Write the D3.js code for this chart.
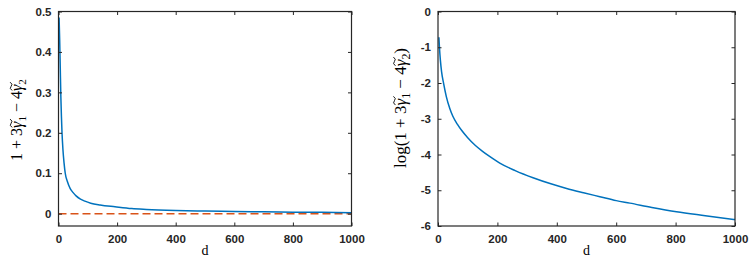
<!DOCTYPE html>
<html><head><meta charset="utf-8">
<script src="https://cdn.jsdelivr.net/npm/d3@7"></script>
<style>
body{margin:0;background:#fff;}
svg{display:block;}
</style></head>
<body><svg id="c" width="753" height="262"></svg>
<script>
// Left panel: 1 + 3γ̃1 − 4γ̃2 versus d
const leftD = [2, 4, 6, 8, 10, 12, 15, 19, 23, 30, 40, 50, 60, 75, 90, 110, 142, 193, 250, 300, 400, 500, 600, 700, 800, 900, 1000];
const leftV = [0.485, 0.43, 0.36, 0.29, 0.24, 0.20, 0.16, 0.125, 0.10, 0.08, 0.062, 0.052, 0.044, 0.036, 0.031, 0.026, 0.0215, 0.017, 0.0125, 0.0105, 0.008, 0.0065, 0.0055, 0.0045, 0.0038, 0.0032, 0.0025];
const zeroLineD = [0, 1000];
const zeroLineV = [0, 0];
// Right panel: log(1 + 3γ̃1 − 4γ̃2) versus d
const rightD = [3, 5, 8, 12, 19, 28, 40, 50, 65, 80, 100, 125, 150, 175, 208, 260, 320, 380, 433, 490, 545, 600, 646, 720, 803, 900, 1000];
const rightV = [-0.72, -1.02, -1.36, -1.68, -2.02, -2.38, -2.72, -2.93, -3.15, -3.33, -3.53, -3.74, -3.91, -4.06, -4.24, -4.45, -4.65, -4.82, -4.95, -5.07, -5.18, -5.29, -5.36, -5.48, -5.60, -5.71, -5.82];
const xTicks = [0, 200, 400, 600, 800, 1000];
const leftYTicks = [0, 0.1, 0.2, 0.3, 0.4, 0.5];
const leftYLabels = ["0", "0.1", "0.2", "0.3", "0.4", "0.5"];
const rightYTicks = [-6, -5, -4, -3, -2, -1, 0];
const rightYLabels = ["-6", "-5", "-4", "-3", "-2", "-1", "0"];

const svg = d3.select("#c");
const AX = "#262626";
const SERIF = "'Liberation Serif','Times New Roman',serif";

function panel(o){
  const x = d3.scaleLinear().domain([0,1000]).range([o.x0,o.x1]);
  const y = d3.scaleLinear().domain(o.ydom).range([o.y1,o.y0]);
  const g = svg.append("g");
  const tl = 3.5;
  o.series.forEach(s=>{
    const pts = s.d.map((d,i)=>[d,s.v[i]]);
    g.append("path").datum(pts)
      .attr("fill","none").attr("stroke",s.color).attr("stroke-width",s.w)
      .attr("stroke-dasharray",s.dash||null)
      .attr("d",d3.line().x(p=>x(p[0])).y(p=>y(p[1])).curve(s.dash?d3.curveLinear:d3.curveMonotoneX));
  });
  const bottom = g.append("g").attr("transform",`translate(0,${o.y1})`)
    .call(d3.axisBottom(x).tickValues(xTicks).tickFormat(d=>String(d)).tickSizeInner(-tl).tickSizeOuter(0).tickPadding(9));
  const top = g.append("g").attr("transform",`translate(0,${o.y0})`)
    .call(d3.axisTop(x).tickValues(xTicks).tickFormat("").tickSizeInner(-tl).tickSizeOuter(0));
  const left = g.append("g").attr("transform",`translate(${o.x0},0)`)
    .call(d3.axisLeft(y).tickValues(o.yt).tickFormat((d,i)=>o.yl[i]).tickSizeInner(-tl).tickSizeOuter(0).tickPadding(7));
  const right = g.append("g").attr("transform",`translate(${o.x1},0)`)
    .call(d3.axisRight(y).tickValues(o.yt).tickFormat("").tickSizeInner(-tl).tickSizeOuter(0));
  [bottom,top,left,right].forEach(a=>{
    a.select(".domain").remove();
    a.selectAll("line").attr("stroke",AX).attr("stroke-width",1);
    a.selectAll("text").attr("font-family","'Liberation Sans',Arial,sans-serif")
      .attr("font-weight","bold").attr("font-size",11.5).attr("fill",AX);
  });
  bottom.selectAll("text").attr("dy","0.71em");
  g.append("rect").attr("x",o.x0).attr("y",o.y0).attr("width",o.x1-o.x0).attr("height",o.y1-o.y0)
    .attr("fill","none").attr("stroke",AX).attr("stroke-width",1.2);
  g.append("text").attr("x",(o.x0+o.x1)/2).attr("y",o.y1+29)
    .attr("text-anchor","middle").attr("font-family",SERIF)
    .attr("font-size",14).attr("fill","#000").text("d");
  const lg = g.append("g").attr("transform",`translate(${o.ylx},${o.yly}) rotate(-90)`);
  const t = lg.append("text").attr("text-anchor","middle").attr("font-family",SERIF)
    .attr("font-size",o.yfs).attr("fill","#000");
  let idx = 0; const gammaIdx = [];
  o.ylab.forEach(p=>{
    const s = t.append("tspan").text(p.t);
    if(p.it){ s.attr("font-style","italic"); }
    if(p.t==="γ") gammaIdx.push(idx);
    if(p.sub) s.attr("font-size",o.yfs*0.7).attr("dy",o.yfs*0.25);
    if(p.up) s.attr("dy",-o.yfs*0.25);
    idx += p.t.length;
  });
  const node = t.node();
  gammaIdx.forEach(i=>{
    const ext = node.getExtentOfChar(i);
    const base = node.getStartPositionOfChar(i).y;
    const a = ext.x + 0.5, w = ext.width + 2, b = base - o.yfs*0.68;
    lg.append("path")
      .attr("d",`M${a},${b+1} Q${a+w*0.25},${b-2.2} ${a+w*0.5},${b} Q${a+w*0.75},${b+2.2} ${a+w},${b-1}`)
      .attr("fill","none").attr("stroke","#000").attr("stroke-width",0.9);
  });
}
const lab = [
  {t:"1 + 3"},{t:"γ",it:1},{t:"1",sub:1},{t:" − 4",up:1},{t:"γ",it:1},{t:"2",sub:1}
];
panel({x0:58.5,x1:351.5,y0:11.5,y1:226,ydom:[-0.0305,0.5],yt:leftYTicks,yl:leftYLabels,
  series:[{d:zeroLineD,v:zeroLineV,color:"#D95319",w:1.5,dash:"8,4"},{d:leftD,v:leftV,color:"#0072BD",w:1.5}],
  ylx:22,yly:120,yfs:16,ylab:lab});
panel({x0:438,x1:735,y0:11.5,y1:226,ydom:[-6,0],yt:rightYTicks,yl:rightYLabels,
  series:[{d:rightD,v:rightV,color:"#0072BD",w:1.5}],
  ylx:406,yly:108,yfs:17,ylab:[{t:"log(1 + 3"}].concat(lab.slice(1)).concat([{t:")",up:1}])});
</script></body></html>
